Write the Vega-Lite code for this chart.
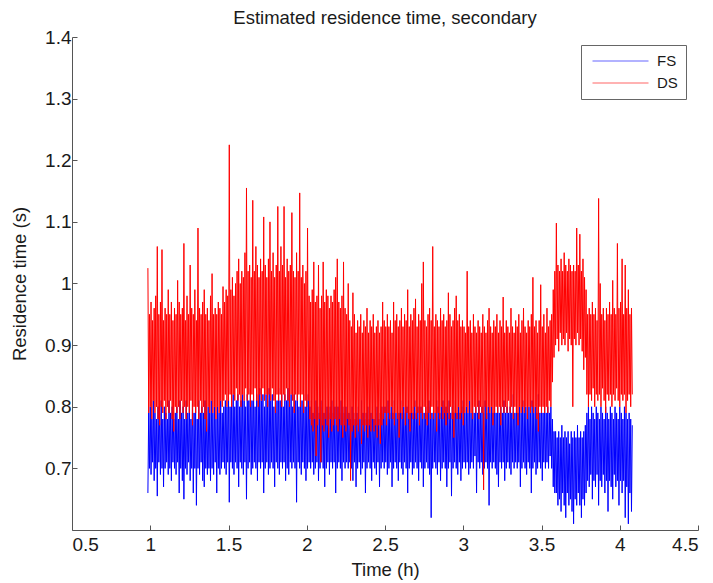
{
"$schema": "https://vega.github.io/schema/vega-lite/v6.json",
"width": 626,
"height": 493,
"autosize": {"type": "none"},
"padding": {"left": 72, "top": 37, "right": 15, "bottom": 53},
"background": "white",
"title": {"text": "Estimated residence time, secondary", "anchor": "middle", "font": "Liberation Sans", "fontSize": 18.5, "fontWeight": "normal", "color": "#1a1a1a", "baseline": "alphabetic", "offset": -14},
"data": {"values": [
{"t":0.985,"FS":0.66,"DS":1.025},{"t":0.990,"FS":0.79,"DS":0.79},{"t":0.995,"FS":0.70,"DS":0.95},{"t":1.000,"FS":0.80,"DS":0.80},{"t":1.005,"FS":0.69,"DS":0.97},{"t":1.010,"FS":0.78,"DS":0.78},{"t":1.015,"FS":0.71,"DS":0.94},{"t":1.020,"FS":0.81,"DS":0.81},{"t":1.025,"FS":0.68,"DS":0.96},{"t":1.030,"FS":0.79,"DS":0.79},
{"t":1.035,"FS":0.70,"DS":0.98},{"t":1.040,"FS":0.78,"DS":0.80},{"t":1.045,"FS":0.655,"DS":1.06},{"t":1.050,"FS":0.80,"DS":0.78},{"t":1.055,"FS":0.71,"DS":0.95},{"t":1.060,"FS":0.79,"DS":0.77},{"t":1.065,"FS":0.69,"DS":0.97},{"t":1.070,"FS":0.81,"DS":0.80},{"t":1.075,"FS":0.70,"DS":1.055},{"t":1.080,"FS":0.78,"DS":0.79},
{"t":1.085,"FS":0.67,"DS":0.94},{"t":1.090,"FS":0.80,"DS":0.81},{"t":1.095,"FS":0.70,"DS":0.96},{"t":1.100,"FS":0.79,"DS":0.78},{"t":1.105,"FS":0.71,"DS":0.95},{"t":1.110,"FS":0.78,"DS":0.80},{"t":1.115,"FS":0.69,"DS":0.99},{"t":1.120,"FS":0.81,"DS":0.79},{"t":1.125,"FS":0.70,"DS":0.95},{"t":1.130,"FS":0.79,"DS":0.81},
{"t":1.135,"FS":0.68,"DS":0.97},{"t":1.140,"FS":0.80,"DS":0.78},{"t":1.145,"FS":0.71,"DS":0.94},{"t":1.150,"FS":0.78,"DS":0.76},{"t":1.155,"FS":0.70,"DS":0.96},{"t":1.160,"FS":0.79,"DS":0.80},{"t":1.165,"FS":0.69,"DS":0.95},{"t":1.170,"FS":0.80,"DS":0.79},{"t":1.175,"FS":0.71,"DS":1.005},{"t":1.180,"FS":0.78,"DS":0.80},
{"t":1.185,"FS":0.66,"DS":0.97},{"t":1.190,"FS":0.81,"DS":0.78},{"t":1.195,"FS":0.70,"DS":0.95},{"t":1.200,"FS":0.79,"DS":0.81},{"t":1.205,"FS":0.68,"DS":0.96},{"t":1.210,"FS":0.80,"DS":0.79},{"t":1.215,"FS":0.65,"DS":1.065},{"t":1.220,"FS":0.78,"DS":0.80},{"t":1.225,"FS":0.70,"DS":0.94},{"t":1.230,"FS":0.81,"DS":0.78},
{"t":1.235,"FS":0.69,"DS":0.98},{"t":1.240,"FS":0.79,"DS":0.80},{"t":1.245,"FS":0.71,"DS":0.95},{"t":1.250,"FS":0.80,"DS":0.79},{"t":1.255,"FS":0.68,"DS":1.03},{"t":1.260,"FS":0.78,"DS":0.81},{"t":1.265,"FS":0.70,"DS":0.96},{"t":1.270,"FS":0.81,"DS":0.77},{"t":1.275,"FS":0.66,"DS":0.95},{"t":1.280,"FS":0.79,"DS":0.80},
{"t":1.285,"FS":0.70,"DS":0.99},{"t":1.290,"FS":0.80,"DS":0.79},{"t":1.295,"FS":0.64,"DS":0.94},{"t":1.300,"FS":0.78,"DS":0.80},{"t":1.305,"FS":0.70,"DS":1.09},{"t":1.310,"FS":0.81,"DS":0.78},{"t":1.315,"FS":0.69,"DS":0.96},{"t":1.320,"FS":0.79,"DS":0.81},{"t":1.325,"FS":0.71,"DS":0.95},{"t":1.330,"FS":0.80,"DS":0.79},
{"t":1.335,"FS":0.68,"DS":0.97},{"t":1.340,"FS":0.79,"DS":0.80},{"t":1.345,"FS":0.67,"DS":0.99},{"t":1.350,"FS":0.81,"DS":0.78},{"t":1.355,"FS":0.70,"DS":0.95},{"t":1.360,"FS":0.78,"DS":0.76},{"t":1.365,"FS":0.69,"DS":0.96},{"t":1.370,"FS":0.80,"DS":0.80},{"t":1.375,"FS":0.70,"DS":0.94},{"t":1.380,"FS":0.79,"DS":0.79},
{"t":1.385,"FS":0.68,"DS":0.98},{"t":1.390,"FS":0.81,"DS":0.81},{"t":1.395,"FS":0.70,"DS":1.016},{"t":1.400,"FS":0.79,"DS":0.79},{"t":1.405,"FS":0.69,"DS":0.95},{"t":1.410,"FS":0.80,"DS":0.80},{"t":1.415,"FS":0.71,"DS":0.96},{"t":1.420,"FS":0.78,"DS":0.78},{"t":1.425,"FS":0.66,"DS":0.95},{"t":1.430,"FS":0.80,"DS":0.80},
{"t":1.435,"FS":0.70,"DS":0.97},{"t":1.440,"FS":0.79,"DS":0.79},{"t":1.445,"FS":0.69,"DS":0.96},{"t":1.450,"FS":0.81,"DS":0.81},{"t":1.455,"FS":0.70,"DS":0.95},{"t":1.460,"FS":0.79,"DS":0.80},{"t":1.465,"FS":0.71,"DS":0.995},{"t":1.470,"FS":0.80,"DS":0.81},{"t":1.475,"FS":0.70,"DS":0.97},{"t":1.480,"FS":0.81,"DS":0.82},
{"t":1.485,"FS":0.69,"DS":0.99},{"t":1.490,"FS":0.80,"DS":0.80},{"t":1.495,"FS":0.71,"DS":0.98},{"t":1.500,"FS":0.82,"DS":0.81},{"t":1.505,"FS":0.645,"DS":1.225},{"t":1.510,"FS":0.80,"DS":0.82},{"t":1.515,"FS":0.71,"DS":0.99},{"t":1.520,"FS":0.81,"DS":0.80},{"t":1.525,"FS":0.70,"DS":1.01},{"t":1.530,"FS":0.82,"DS":0.82},
{"t":1.535,"FS":0.69,"DS":0.98},{"t":1.540,"FS":0.80,"DS":0.81},{"t":1.545,"FS":0.71,"DS":1.00},{"t":1.550,"FS":0.81,"DS":0.83},{"t":1.555,"FS":0.70,"DS":1.02},{"t":1.560,"FS":0.82,"DS":0.81},{"t":1.565,"FS":0.67,"DS":1.04},{"t":1.570,"FS":0.80,"DS":0.82},{"t":1.575,"FS":0.71,"DS":1.00},{"t":1.580,"FS":0.81,"DS":0.80},
{"t":1.585,"FS":0.70,"DS":1.02},{"t":1.590,"FS":0.82,"DS":0.82},{"t":1.595,"FS":0.69,"DS":1.01},{"t":1.600,"FS":0.81,"DS":0.81},{"t":1.605,"FS":0.71,"DS":1.05},{"t":1.610,"FS":0.80,"DS":0.83},{"t":1.615,"FS":0.65,"DS":1.155},{"t":1.620,"FS":0.82,"DS":0.81},{"t":1.625,"FS":0.70,"DS":1.02},{"t":1.630,"FS":0.81,"DS":0.82},
{"t":1.635,"FS":0.71,"DS":1.03},{"t":1.640,"FS":0.83,"DS":0.80},{"t":1.645,"FS":0.69,"DS":1.01},{"t":1.650,"FS":0.81,"DS":0.82},{"t":1.655,"FS":0.70,"DS":1.135},{"t":1.660,"FS":0.82,"DS":0.81},{"t":1.665,"FS":0.71,"DS":1.02},{"t":1.670,"FS":0.80,"DS":0.83},{"t":1.675,"FS":0.70,"DS":1.06},{"t":1.680,"FS":0.82,"DS":0.81},
{"t":1.685,"FS":0.68,"DS":1.03},{"t":1.690,"FS":0.81,"DS":0.80},{"t":1.695,"FS":0.71,"DS":1.01},{"t":1.700,"FS":0.83,"DS":0.82},{"t":1.705,"FS":0.70,"DS":1.04},{"t":1.710,"FS":0.81,"DS":0.81},{"t":1.715,"FS":0.71,"DS":1.02},{"t":1.720,"FS":0.82,"DS":0.83},{"t":1.725,"FS":0.66,"DS":1.108},{"t":1.730,"FS":0.80,"DS":0.81},
{"t":1.735,"FS":0.70,"DS":1.03},{"t":1.740,"FS":0.82,"DS":0.82},{"t":1.745,"FS":0.71,"DS":1.01},{"t":1.750,"FS":0.81,"DS":0.80},{"t":1.755,"FS":0.69,"DS":1.04},{"t":1.760,"FS":0.83,"DS":0.82},{"t":1.765,"FS":0.70,"DS":1.10},{"t":1.770,"FS":0.81,"DS":0.81},{"t":1.775,"FS":0.71,"DS":1.02},{"t":1.780,"FS":0.82,"DS":0.83},
{"t":1.785,"FS":0.70,"DS":1.05},{"t":1.790,"FS":0.80,"DS":0.81},{"t":1.795,"FS":0.67,"DS":1.01},{"t":1.800,"FS":0.82,"DS":0.79},{"t":1.805,"FS":0.71,"DS":1.03},{"t":1.810,"FS":0.81,"DS":0.82},{"t":1.815,"FS":0.70,"DS":1.125},{"t":1.820,"FS":0.83,"DS":0.81},{"t":1.825,"FS":0.69,"DS":1.02},{"t":1.830,"FS":0.81,"DS":0.82},
{"t":1.835,"FS":0.71,"DS":1.06},{"t":1.840,"FS":0.82,"DS":0.80},{"t":1.845,"FS":0.70,"DS":1.03},{"t":1.850,"FS":0.80,"DS":0.82},{"t":1.855,"FS":0.71,"DS":1.125},{"t":1.860,"FS":0.82,"DS":0.81},{"t":1.865,"FS":0.68,"DS":1.01},{"t":1.870,"FS":0.81,"DS":0.83},{"t":1.875,"FS":0.70,"DS":1.04},{"t":1.880,"FS":0.83,"DS":0.81},
{"t":1.885,"FS":0.69,"DS":1.02},{"t":1.890,"FS":0.81,"DS":0.80},{"t":1.895,"FS":0.71,"DS":1.03},{"t":1.900,"FS":0.82,"DS":0.82},{"t":1.905,"FS":0.70,"DS":1.115},{"t":1.910,"FS":0.80,"DS":0.81},{"t":1.915,"FS":0.71,"DS":1.02},{"t":1.920,"FS":0.82,"DS":0.79},{"t":1.925,"FS":0.70,"DS":1.01},{"t":1.930,"FS":0.81,"DS":0.82},
{"t":1.935,"FS":0.645,"DS":1.05},{"t":1.940,"FS":0.82,"DS":0.81},{"t":1.945,"FS":0.71,"DS":1.02},{"t":1.950,"FS":0.80,"DS":0.82},{"t":1.955,"FS":0.70,"DS":1.147},{"t":1.960,"FS":0.82,"DS":0.80},{"t":1.965,"FS":0.69,"DS":1.01},{"t":1.970,"FS":0.81,"DS":0.82},{"t":1.975,"FS":0.71,"DS":1.03},{"t":1.980,"FS":0.82,"DS":0.79},
{"t":1.985,"FS":0.70,"DS":1.00},{"t":1.990,"FS":0.80,"DS":0.81},{"t":1.995,"FS":0.68,"DS":1.02},{"t":2.000,"FS":0.81,"DS":0.80},{"t":2.005,"FS":0.70,"DS":1.09},{"t":2.010,"FS":0.82,"DS":0.81},{"t":2.015,"FS":0.71,"DS":0.98},{"t":2.020,"FS":0.80,"DS":0.78},{"t":2.025,"FS":0.70,"DS":0.97},{"t":2.030,"FS":0.81,"DS":0.77},
{"t":2.035,"FS":0.71,"DS":0.99},{"t":2.040,"FS":0.79,"DS":0.76},{"t":2.045,"FS":0.69,"DS":1.035},{"t":2.050,"FS":0.80,"DS":0.78},{"t":2.055,"FS":0.70,"DS":0.97},{"t":2.060,"FS":0.81,"DS":0.72},{"t":2.065,"FS":0.71,"DS":0.98},{"t":2.070,"FS":0.80,"DS":0.77},{"t":2.075,"FS":0.68,"DS":1.03},{"t":2.080,"FS":0.79,"DS":0.78},
{"t":2.085,"FS":0.70,"DS":0.96},{"t":2.090,"FS":0.81,"DS":0.71},{"t":2.095,"FS":0.71,"DS":0.98},{"t":2.100,"FS":0.80,"DS":0.77},{"t":2.105,"FS":0.70,"DS":1.035},{"t":2.110,"FS":0.79,"DS":0.76},{"t":2.115,"FS":0.67,"DS":0.97},{"t":2.120,"FS":0.81,"DS":0.78},{"t":2.125,"FS":0.70,"DS":0.99},{"t":2.130,"FS":0.80,"DS":0.77},
{"t":2.135,"FS":0.71,"DS":0.98},{"t":2.140,"FS":0.79,"DS":0.75},{"t":2.145,"FS":0.69,"DS":0.96},{"t":2.150,"FS":0.80,"DS":0.78},{"t":2.155,"FS":0.71,"DS":0.98},{"t":2.160,"FS":0.81,"DS":0.76},{"t":2.165,"FS":0.70,"DS":0.97},{"t":2.170,"FS":0.79,"DS":0.77},{"t":2.175,"FS":0.71,"DS":0.99},{"t":2.180,"FS":0.80,"DS":0.78},
{"t":2.185,"FS":0.66,"DS":1.01},{"t":2.190,"FS":0.81,"DS":0.77},{"t":2.195,"FS":0.70,"DS":1.04},{"t":2.200,"FS":0.80,"DS":0.76},{"t":2.205,"FS":0.71,"DS":0.97},{"t":2.210,"FS":0.79,"DS":0.78},{"t":2.215,"FS":0.70,"DS":0.96},{"t":2.220,"FS":0.81,"DS":0.77},{"t":2.225,"FS":0.68,"DS":0.98},{"t":2.230,"FS":0.80,"DS":0.75},
{"t":2.235,"FS":0.71,"DS":1.035},{"t":2.240,"FS":0.79,"DS":0.77},{"t":2.245,"FS":0.70,"DS":0.96},{"t":2.250,"FS":0.80,"DS":0.76},{"t":2.255,"FS":0.71,"DS":0.95},{"t":2.260,"FS":0.79,"DS":0.78},{"t":2.265,"FS":0.70,"DS":1.00},{"t":2.270,"FS":0.79,"DS":0.77},{"t":2.275,"FS":0.71,"DS":0.94},{"t":2.280,"FS":0.78,"DS":0.68},
{"t":2.285,"FS":0.70,"DS":0.93},{"t":2.290,"FS":0.80,"DS":0.76},{"t":2.295,"FS":0.68,"DS":0.985},{"t":2.300,"FS":0.79,"DS":0.77},{"t":2.305,"FS":0.71,"DS":0.95},{"t":2.310,"FS":0.78,"DS":0.75},{"t":2.315,"FS":0.67,"DS":0.92},{"t":2.320,"FS":0.79,"DS":0.77},{"t":2.325,"FS":0.70,"DS":0.94},{"t":2.330,"FS":0.80,"DS":0.76},
{"t":2.335,"FS":0.71,"DS":0.93},{"t":2.340,"FS":0.78,"DS":0.78},{"t":2.345,"FS":0.69,"DS":0.95},{"t":2.350,"FS":0.81,"DS":0.74},{"t":2.355,"FS":0.70,"DS":0.92},{"t":2.360,"FS":0.79,"DS":0.77},{"t":2.365,"FS":0.71,"DS":0.94},{"t":2.370,"FS":0.78,"DS":0.76},{"t":2.375,"FS":0.66,"DS":0.93},{"t":2.380,"FS":0.79,"DS":0.77},
{"t":2.385,"FS":0.70,"DS":0.96},{"t":2.390,"FS":0.80,"DS":0.75},{"t":2.395,"FS":0.71,"DS":0.92},{"t":2.400,"FS":0.78,"DS":0.77},{"t":2.405,"FS":0.70,"DS":0.94},{"t":2.410,"FS":0.79,"DS":0.76},{"t":2.415,"FS":0.68,"DS":0.93},{"t":2.420,"FS":0.80,"DS":0.78},{"t":2.425,"FS":0.71,"DS":0.95},{"t":2.430,"FS":0.78,"DS":0.76},
{"t":2.435,"FS":0.70,"DS":0.92},{"t":2.440,"FS":0.79,"DS":0.77},{"t":2.445,"FS":0.69,"DS":0.93},{"t":2.450,"FS":0.80,"DS":0.75},{"t":2.455,"FS":0.71,"DS":0.94},{"t":2.460,"FS":0.78,"DS":0.77},{"t":2.465,"FS":0.67,"DS":0.92},{"t":2.470,"FS":0.79,"DS":0.74},{"t":2.475,"FS":0.70,"DS":0.93},{"t":2.480,"FS":0.80,"DS":0.77},
{"t":2.485,"FS":0.71,"DS":0.97},{"t":2.490,"FS":0.79,"DS":0.78},{"t":2.495,"FS":0.70,"DS":0.94},{"t":2.500,"FS":0.80,"DS":0.79},{"t":2.505,"FS":0.71,"DS":0.93},{"t":2.510,"FS":0.79,"DS":0.77},{"t":2.515,"FS":0.69,"DS":0.95},{"t":2.520,"FS":0.81,"DS":0.79},{"t":2.525,"FS":0.70,"DS":0.93},{"t":2.530,"FS":0.79,"DS":0.78},
{"t":2.535,"FS":0.71,"DS":0.94},{"t":2.540,"FS":0.80,"DS":0.80},{"t":2.545,"FS":0.67,"DS":0.92},{"t":2.550,"FS":0.79,"DS":0.78},{"t":2.555,"FS":0.70,"DS":0.97},{"t":2.560,"FS":0.81,"DS":0.77},{"t":2.565,"FS":0.71,"DS":0.94},{"t":2.570,"FS":0.79,"DS":0.79},{"t":2.575,"FS":0.70,"DS":0.95},{"t":2.580,"FS":0.80,"DS":0.78},
{"t":2.585,"FS":0.68,"DS":0.93},{"t":2.590,"FS":0.79,"DS":0.75},{"t":2.595,"FS":0.71,"DS":0.94},{"t":2.600,"FS":0.81,"DS":0.79},{"t":2.605,"FS":0.70,"DS":0.96},{"t":2.610,"FS":0.79,"DS":0.78},{"t":2.615,"FS":0.69,"DS":0.93},{"t":2.620,"FS":0.80,"DS":0.80},{"t":2.625,"FS":0.71,"DS":0.95},{"t":2.630,"FS":0.79,"DS":0.77},
{"t":2.635,"FS":0.70,"DS":0.94},{"t":2.640,"FS":0.80,"DS":0.79},{"t":2.645,"FS":0.66,"DS":0.99},{"t":2.650,"FS":0.81,"DS":0.78},{"t":2.655,"FS":0.70,"DS":0.93},{"t":2.660,"FS":0.79,"DS":0.76},{"t":2.665,"FS":0.71,"DS":0.95},{"t":2.670,"FS":0.80,"DS":0.79},{"t":2.675,"FS":0.69,"DS":0.94},{"t":2.680,"FS":0.79,"DS":0.78},
{"t":2.685,"FS":0.70,"DS":0.96},{"t":2.690,"FS":0.81,"DS":0.80},{"t":2.695,"FS":0.71,"DS":0.975},{"t":2.700,"FS":0.79,"DS":0.78},{"t":2.705,"FS":0.70,"DS":0.93},{"t":2.710,"FS":0.80,"DS":0.79},{"t":2.715,"FS":0.68,"DS":0.95},{"t":2.720,"FS":0.79,"DS":0.77},{"t":2.725,"FS":0.71,"DS":0.94},{"t":2.730,"FS":0.80,"DS":0.79},
{"t":2.735,"FS":0.70,"DS":1.00},{"t":2.740,"FS":0.81,"DS":0.78},{"t":2.745,"FS":0.67,"DS":1.035},{"t":2.750,"FS":0.79,"DS":0.80},{"t":2.755,"FS":0.70,"DS":0.94},{"t":2.760,"FS":0.80,"DS":0.78},{"t":2.765,"FS":0.71,"DS":0.93},{"t":2.770,"FS":0.79,"DS":0.77},{"t":2.775,"FS":0.70,"DS":0.95},{"t":2.780,"FS":0.81,"DS":0.79},
{"t":2.785,"FS":0.69,"DS":0.96},{"t":2.790,"FS":0.80,"DS":0.78},{"t":2.795,"FS":0.62,"DS":0.94},{"t":2.800,"FS":0.79,"DS":0.80},{"t":2.805,"FS":0.70,"DS":1.06},{"t":2.810,"FS":0.80,"DS":0.78},{"t":2.815,"FS":0.71,"DS":0.93},{"t":2.820,"FS":0.79,"DS":0.79},{"t":2.825,"FS":0.70,"DS":0.95},{"t":2.830,"FS":0.81,"DS":0.76},
{"t":2.835,"FS":0.69,"DS":0.94},{"t":2.840,"FS":0.80,"DS":0.79},{"t":2.845,"FS":0.71,"DS":0.93},{"t":2.850,"FS":0.79,"DS":0.78},{"t":2.855,"FS":0.68,"DS":0.96},{"t":2.860,"FS":0.80,"DS":0.80},{"t":2.865,"FS":0.70,"DS":0.94},{"t":2.870,"FS":0.81,"DS":0.78},{"t":2.875,"FS":0.71,"DS":0.95},{"t":2.880,"FS":0.79,"DS":0.79},
{"t":2.885,"FS":0.70,"DS":0.93},{"t":2.890,"FS":0.80,"DS":0.77},{"t":2.895,"FS":0.67,"DS":0.94},{"t":2.900,"FS":0.79,"DS":0.79},{"t":2.905,"FS":0.70,"DS":0.985},{"t":2.910,"FS":0.81,"DS":0.78},{"t":2.915,"FS":0.71,"DS":0.95},{"t":2.920,"FS":0.79,"DS":0.80},{"t":2.925,"FS":0.655,"DS":0.93},{"t":2.930,"FS":0.80,"DS":0.78},
{"t":2.935,"FS":0.70,"DS":0.94},{"t":2.940,"FS":0.79,"DS":0.75},{"t":2.945,"FS":0.71,"DS":0.96},{"t":2.950,"FS":0.81,"DS":0.79},{"t":2.955,"FS":0.70,"DS":0.98},{"t":2.960,"FS":0.79,"DS":0.78},{"t":2.965,"FS":0.69,"DS":0.94},{"t":2.970,"FS":0.80,"DS":0.80},{"t":2.975,"FS":0.71,"DS":0.95},{"t":2.980,"FS":0.79,"DS":0.78},
{"t":2.985,"FS":0.68,"DS":0.93},{"t":2.990,"FS":0.80,"DS":0.79},{"t":2.995,"FS":0.70,"DS":0.94},{"t":3.000,"FS":0.81,"DS":0.77},{"t":3.005,"FS":0.71,"DS":0.93},{"t":3.010,"FS":0.79,"DS":0.79},{"t":3.015,"FS":0.70,"DS":0.92},{"t":3.020,"FS":0.80,"DS":0.80},{"t":3.025,"FS":0.71,"DS":1.02},{"t":3.030,"FS":0.79,"DS":0.79},
{"t":3.035,"FS":0.69,"DS":0.93},{"t":3.040,"FS":0.81,"DS":0.81},{"t":3.045,"FS":0.70,"DS":0.94},{"t":3.050,"FS":0.79,"DS":0.79},{"t":3.055,"FS":0.71,"DS":0.92},{"t":3.060,"FS":0.80,"DS":0.78},{"t":3.065,"FS":0.70,"DS":0.95},{"t":3.070,"FS":0.79,"DS":0.80},{"t":3.075,"FS":0.72,"DS":0.93},{"t":3.080,"FS":0.80,"DS":0.79},
{"t":3.085,"FS":0.66,"DS":0.92},{"t":3.090,"FS":0.79,"DS":0.80},{"t":3.095,"FS":0.71,"DS":0.94},{"t":3.100,"FS":0.81,"DS":0.78},{"t":3.105,"FS":0.70,"DS":0.93},{"t":3.110,"FS":0.79,"DS":0.80},{"t":3.115,"FS":0.71,"DS":0.92},{"t":3.120,"FS":0.80,"DS":0.79},{"t":3.125,"FS":0.69,"DS":0.95},{"t":3.130,"FS":0.79,"DS":0.665},
{"t":3.135,"FS":0.70,"DS":0.93},{"t":3.140,"FS":0.81,"DS":0.80},{"t":3.145,"FS":0.71,"DS":0.92},{"t":3.150,"FS":0.79,"DS":0.78},{"t":3.155,"FS":0.70,"DS":0.94},{"t":3.160,"FS":0.80,"DS":0.80},{"t":3.165,"FS":0.64,"DS":0.96},{"t":3.170,"FS":0.79,"DS":0.79},{"t":3.175,"FS":0.71,"DS":0.93},{"t":3.180,"FS":0.80,"DS":0.80},
{"t":3.185,"FS":0.70,"DS":0.92},{"t":3.190,"FS":0.79,"DS":0.77},{"t":3.195,"FS":0.71,"DS":0.94},{"t":3.200,"FS":0.81,"DS":0.79},{"t":3.205,"FS":0.70,"DS":0.93},{"t":3.210,"FS":0.79,"DS":0.80},{"t":3.215,"FS":0.69,"DS":0.95},{"t":3.220,"FS":0.80,"DS":0.79},{"t":3.225,"FS":0.67,"DS":0.92},{"t":3.230,"FS":0.79,"DS":0.80},
{"t":3.235,"FS":0.71,"DS":0.94},{"t":3.240,"FS":0.80,"DS":0.77},{"t":3.245,"FS":0.70,"DS":0.93},{"t":3.250,"FS":0.79,"DS":0.80},{"t":3.255,"FS":0.71,"DS":0.978},{"t":3.260,"FS":0.81,"DS":0.79},{"t":3.265,"FS":0.68,"DS":0.92},{"t":3.270,"FS":0.79,"DS":0.80},{"t":3.275,"FS":0.70,"DS":0.94},{"t":3.280,"FS":0.80,"DS":0.79},
{"t":3.285,"FS":0.71,"DS":0.93},{"t":3.290,"FS":0.79,"DS":0.81},{"t":3.295,"FS":0.70,"DS":0.92},{"t":3.300,"FS":0.80,"DS":0.79},{"t":3.305,"FS":0.69,"DS":0.96},{"t":3.310,"FS":0.79,"DS":0.80},{"t":3.315,"FS":0.71,"DS":0.93},{"t":3.320,"FS":0.82,"DS":0.78},{"t":3.325,"FS":0.70,"DS":0.92},{"t":3.330,"FS":0.79,"DS":0.80},
{"t":3.335,"FS":0.71,"DS":0.94},{"t":3.340,"FS":0.80,"DS":0.79},{"t":3.345,"FS":0.70,"DS":0.93},{"t":3.350,"FS":0.79,"DS":0.77},{"t":3.355,"FS":0.71,"DS":0.95},{"t":3.360,"FS":0.80,"DS":0.80},{"t":3.365,"FS":0.67,"DS":0.92},{"t":3.370,"FS":0.79,"DS":0.79},{"t":3.375,"FS":0.70,"DS":0.94},{"t":3.380,"FS":0.81,"DS":0.80},
{"t":3.385,"FS":0.71,"DS":0.96},{"t":3.390,"FS":0.79,"DS":0.79},{"t":3.395,"FS":0.70,"DS":0.93},{"t":3.400,"FS":0.80,"DS":0.80},{"t":3.405,"FS":0.69,"DS":0.92},{"t":3.410,"FS":0.79,"DS":0.78},{"t":3.415,"FS":0.71,"DS":0.94},{"t":3.420,"FS":0.80,"DS":0.80},{"t":3.425,"FS":0.70,"DS":0.93},{"t":3.430,"FS":0.79,"DS":0.79},
{"t":3.435,"FS":0.66,"DS":0.95},{"t":3.440,"FS":0.81,"DS":0.80},{"t":3.445,"FS":0.70,"DS":1.01},{"t":3.450,"FS":0.79,"DS":0.79},{"t":3.455,"FS":0.71,"DS":0.93},{"t":3.460,"FS":0.80,"DS":0.80},{"t":3.465,"FS":0.69,"DS":0.94},{"t":3.470,"FS":0.79,"DS":0.78},{"t":3.475,"FS":0.70,"DS":0.92},{"t":3.480,"FS":0.82,"DS":0.76},
{"t":3.485,"FS":0.71,"DS":0.94},{"t":3.490,"FS":0.79,"DS":0.80},{"t":3.495,"FS":0.70,"DS":0.998},{"t":3.500,"FS":0.80,"DS":0.79},{"t":3.505,"FS":0.68,"DS":0.93},{"t":3.510,"FS":0.79,"DS":0.80},{"t":3.515,"FS":0.71,"DS":0.95},{"t":3.520,"FS":0.80,"DS":0.79},{"t":3.525,"FS":0.70,"DS":0.92},{"t":3.530,"FS":0.79,"DS":0.80},
{"t":3.535,"FS":0.71,"DS":0.96},{"t":3.540,"FS":0.80,"DS":0.79},{"t":3.545,"FS":0.70,"DS":0.93},{"t":3.550,"FS":0.79,"DS":0.81},{"t":3.555,"FS":0.72,"DS":0.94},{"t":3.560,"FS":0.80,"DS":0.80},{"t":3.565,"FS":0.70,"DS":0.95},{"t":3.570,"FS":0.78,"DS":0.84},{"t":3.575,"FS":0.67,"DS":0.99},{"t":3.580,"FS":0.76,"DS":0.88},
{"t":3.585,"FS":0.66,"DS":1.02},{"t":3.590,"FS":0.76,"DS":0.90},{"t":3.595,"FS":0.66,"DS":1.098},{"t":3.600,"FS":0.75,"DS":0.91},{"t":3.605,"FS":0.64,"DS":1.03},{"t":3.610,"FS":0.76,"DS":0.89},{"t":3.615,"FS":0.65,"DS":1.02},{"t":3.620,"FS":0.75,"DS":0.92},{"t":3.625,"FS":0.63,"DS":1.04},{"t":3.630,"FS":0.77,"DS":0.90},
{"t":3.635,"FS":0.66,"DS":1.02},{"t":3.640,"FS":0.75,"DS":0.91},{"t":3.645,"FS":0.64,"DS":1.05},{"t":3.650,"FS":0.76,"DS":0.90},{"t":3.655,"FS":0.62,"DS":1.03},{"t":3.660,"FS":0.75,"DS":0.92},{"t":3.665,"FS":0.66,"DS":1.02},{"t":3.670,"FS":0.76,"DS":0.89},{"t":3.675,"FS":0.64,"DS":1.04},{"t":3.680,"FS":0.74,"DS":0.91},
{"t":3.685,"FS":0.65,"DS":1.03},{"t":3.690,"FS":0.76,"DS":0.90},{"t":3.695,"FS":0.63,"DS":1.02},{"t":3.700,"FS":0.75,"DS":0.80},{"t":3.705,"FS":0.61,"DS":1.03},{"t":3.710,"FS":0.76,"DS":0.91},{"t":3.715,"FS":0.65,"DS":1.02},{"t":3.720,"FS":0.75,"DS":0.90},{"t":3.725,"FS":0.64,"DS":1.09},{"t":3.730,"FS":0.77,"DS":0.92},
{"t":3.735,"FS":0.66,"DS":1.03},{"t":3.740,"FS":0.75,"DS":0.90},{"t":3.745,"FS":0.64,"DS":1.08},{"t":3.750,"FS":0.76,"DS":0.91},{"t":3.755,"FS":0.62,"DS":1.02},{"t":3.760,"FS":0.75,"DS":0.89},{"t":3.765,"FS":0.65,"DS":1.04},{"t":3.770,"FS":0.76,"DS":0.86},{"t":3.775,"FS":0.64,"DS":1.01},{"t":3.780,"FS":0.77,"DS":0.88},
{"t":3.785,"FS":0.66,"DS":0.99},{"t":3.790,"FS":0.79,"DS":0.82},{"t":3.795,"FS":0.68,"DS":0.95},{"t":3.800,"FS":0.80,"DS":0.80},{"t":3.805,"FS":0.67,"DS":0.96},{"t":3.810,"FS":0.78,"DS":0.82},{"t":3.815,"FS":0.69,"DS":0.95},{"t":3.820,"FS":0.80,"DS":0.81},{"t":3.825,"FS":0.65,"DS":0.97},{"t":3.830,"FS":0.79,"DS":0.83},
{"t":3.835,"FS":0.68,"DS":0.95},{"t":3.840,"FS":0.78,"DS":0.80},{"t":3.845,"FS":0.67,"DS":0.96},{"t":3.850,"FS":0.80,"DS":0.82},{"t":3.855,"FS":0.69,"DS":0.94},{"t":3.860,"FS":0.79,"DS":0.81},{"t":3.865,"FS":0.64,"DS":1.138},{"t":3.870,"FS":0.78,"DS":0.82},{"t":3.875,"FS":0.68,"DS":1.00},{"t":3.880,"FS":0.80,"DS":0.80},
{"t":3.885,"FS":0.67,"DS":0.95},{"t":3.890,"FS":0.79,"DS":0.83},{"t":3.895,"FS":0.69,"DS":0.96},{"t":3.900,"FS":0.78,"DS":0.81},{"t":3.905,"FS":0.66,"DS":0.94},{"t":3.910,"FS":0.80,"DS":0.79},{"t":3.915,"FS":0.68,"DS":0.96},{"t":3.920,"FS":0.79,"DS":0.82},{"t":3.925,"FS":0.63,"DS":0.95},{"t":3.930,"FS":0.78,"DS":0.81},
{"t":3.935,"FS":0.68,"DS":0.97},{"t":3.940,"FS":0.80,"DS":0.82},{"t":3.945,"FS":0.67,"DS":0.95},{"t":3.950,"FS":0.79,"DS":0.80},{"t":3.955,"FS":0.65,"DS":1.005},{"t":3.960,"FS":0.78,"DS":0.82},{"t":3.965,"FS":0.69,"DS":0.96},{"t":3.970,"FS":0.80,"DS":0.81},{"t":3.975,"FS":0.67,"DS":0.95},{"t":3.980,"FS":0.79,"DS":0.83},
{"t":3.985,"FS":0.68,"DS":1.065},{"t":3.990,"FS":0.78,"DS":0.81},{"t":3.995,"FS":0.64,"DS":0.96},{"t":4.000,"FS":0.80,"DS":0.80},{"t":4.005,"FS":0.68,"DS":0.97},{"t":4.010,"FS":0.79,"DS":0.82},{"t":4.015,"FS":0.66,"DS":1.04},{"t":4.020,"FS":0.78,"DS":0.81},{"t":4.025,"FS":0.68,"DS":0.95},{"t":4.030,"FS":0.80,"DS":0.82},
{"t":4.035,"FS":0.62,"DS":1.03},{"t":4.040,"FS":0.79,"DS":0.79},{"t":4.045,"FS":0.67,"DS":0.96},{"t":4.050,"FS":0.78,"DS":0.81},{"t":4.055,"FS":0.61,"DS":0.99},{"t":4.060,"FS":0.79,"DS":0.82},{"t":4.065,"FS":0.66,"DS":0.95},{"t":4.070,"FS":0.78,"DS":0.80},{"t":4.075,"FS":0.63,"DS":0.96},{"t":4.080,"FS":0.77,"DS":0.82}
]},
"transform": [{"fold": ["FS", "DS"], "as": ["series", "value"]}],
"mark": {"type": "line", "strokeWidth": 1, "clip": true},
"encoding": {
  "x": {"field": "t", "type": "quantitative", "scale": {"domain": [0.5, 4.5], "nice": false, "zero": false},
        "axis": {"title": "Time (h)", "values": [0.5, 1, 1.5, 2, 2.5, 3, 3.5, 4, 4.5], "format": "~g", "labelPadding": 10, "titlePadding": 6}},
  "y": {"field": "value", "type": "quantitative", "scale": {"domain": [0.6, 1.4], "nice": false, "zero": false},
        "axis": {"title": "Residence time (s)", "values": [0.7, 0.8, 0.9, 1, 1.1, 1.2, 1.3, 1.4], "format": "~g", "labelPadding": 6, "titlePadding": 15}},
  "color": {"field": "series", "type": "nominal", "sort": ["FS", "DS"],
        "scale": {"domain": ["FS", "DS"], "range": ["#0000ff", "#ff0000"]},
        "legend": {"orient": "none", "legendX": 509, "legendY": 8, "title": null, "symbolType": "stroke", "symbolSize": 3136, "symbolStrokeWidth": 1, "symbolOffset": 3.5, "symbolOpacity": 0.6, "clipHeight": 17,
                   "labelOffset": 8, "labelFont": "Liberation Sans", "labelFontSize": 15, "labelColor": "#1a1a1a", "padding": 7.5, "rowPadding": 5, "strokeColor": "#666666", "fillColor": "white"}}
},
"config": {
  "view": {"stroke": null},
  "axis": {"domainColor": "#555555", "tickColor": "#555555", "tickSize": -5, "grid": false, "labelFont": "Liberation Sans", "labelFontSize": 19, "labelColor": "#1a1a1a", "titleFont": "Liberation Sans", "titleFontSize": 18.5, "titleFontWeight": "normal", "titleColor": "#1a1a1a"}
}
}
